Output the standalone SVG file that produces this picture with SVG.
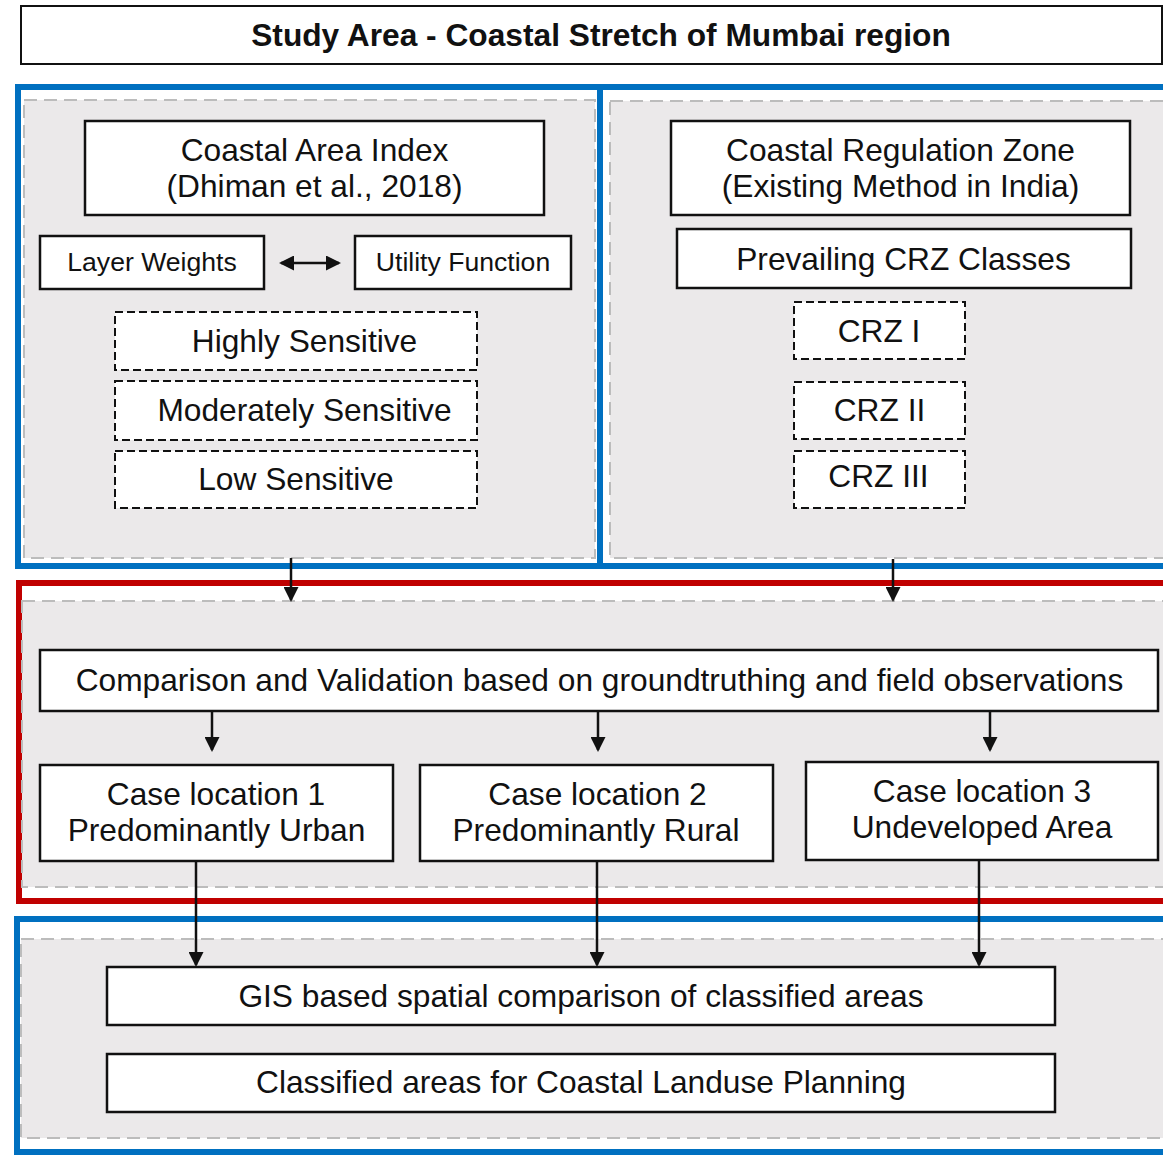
<svg xmlns="http://www.w3.org/2000/svg" width="1163" height="1155" viewBox="0 0 1163 1155">
<style>
text{font-family:"Liberation Sans",Arial,sans-serif;font-size:31.7px;fill:#111;text-anchor:middle}
.title{font-weight:bold}
.sm{font-size:26.6px}
.box{fill:#fff;stroke:#111;stroke-width:2.5}
.dbox{fill:#fff;stroke:#111;stroke-width:2;stroke-dasharray:8 4}
.panel{fill:#ebe9ea;stroke:#bcbcbc;stroke-width:2;stroke-dasharray:13 7}
.blue{fill:#fff;stroke:#0070c0;stroke-width:6}
.red{fill:#fff;stroke:#c00000;stroke-width:6}
.conn{stroke:#111;stroke-width:2.5;fill:none;marker-end:url(#ah)}
</style>
<defs>
<marker id="ah" viewBox="0 0 15 15" refX="13" refY="7.5" markerWidth="15" markerHeight="15" markerUnits="userSpaceOnUse" orient="auto-start-reverse">
<path d="M0,0 L15,7.5 L0,15 z" fill="#111"/>
</marker>
</defs>
<rect width="1163" height="1155" fill="#fff"/>

<g id="title">
<rect x="21" y="6" width="1141" height="58" fill="#fff" stroke="#111" stroke-width="2"/>
<text class="title" x="601" y="46">Study Area - Coastal Stretch of Mumbai region</text>
</g>

<g id="frames">
<rect class="blue" x="18" y="87" width="582" height="479"/>
<rect class="blue" x="600" y="87" width="600" height="479"/>
<rect class="red" x="19" y="583" width="1180" height="318"/>
<rect class="blue" x="17" y="919" width="1180" height="233"/>
<rect class="panel" x="24" y="100" width="571" height="458"/>
<rect class="panel" x="610" y="101" width="600" height="457"/>
<rect class="panel" x="22" y="601" width="1190" height="286"/>
<rect class="panel" x="21" y="939" width="1190" height="199"/>
</g>

<g id="cai">
<rect class="box" x="85" y="121" width="459" height="94"/>
<text x="314.5" y="161">Coastal Area Index</text>
<text x="314.5" y="197">(Dhiman et al., 2018)</text>
</g>
<g id="layer-weights">
<rect class="box" x="40" y="236" width="224" height="53"/>
<text class="sm" x="152" y="271">Layer Weights</text>
</g>
<g id="utility-function">
<rect class="box" x="355" y="236" width="216" height="53"/>
<text class="sm" x="463" y="271">Utility Function</text>
</g>
<g id="highly">
<rect class="dbox" x="115" y="312" width="362" height="58"/>
<text x="304.5" y="352">Highly Sensitive</text>
</g>
<g id="moderately">
<rect class="dbox" x="115" y="381" width="362" height="59"/>
<text x="304.5" y="421">Moderately Sensitive</text>
</g>
<g id="low">
<rect class="dbox" x="115" y="451" width="362" height="57"/>
<text x="296" y="490">Low Sensitive</text>
</g>

<g id="crz">
<rect class="box" x="671" y="121" width="459" height="94"/>
<text x="900.5" y="161">Coastal Regulation Zone</text>
<text x="900.5" y="197">(Existing Method in India)</text>
</g>
<g id="prevailing">
<rect class="box" x="677" y="229" width="454" height="59"/>
<text x="903.5" y="270">Prevailing CRZ Classes</text>
</g>
<g id="crz1">
<rect class="dbox" x="794" y="302" width="171" height="57"/>
<text x="879" y="342">CRZ I</text>
</g>
<g id="crz2">
<rect class="dbox" x="794" y="382" width="171" height="57"/>
<text x="879.5" y="421">CRZ II</text>
</g>
<g id="crz3">
<rect class="dbox" x="794" y="451" width="171" height="57"/>
<text x="878.5" y="487">CRZ III</text>
</g>

<g id="comparison">
<rect class="box" x="40" y="650" width="1118" height="61"/>
<text x="599.5" y="691">Comparison and Validation based on groundtruthing and field observations</text>
</g>
<g id="case1">
<rect class="box" x="40" y="765" width="353" height="96"/>
<text x="216" y="805">Case location 1</text>
<text x="216.5" y="841">Predominantly Urban</text>
</g>
<g id="case2">
<rect class="box" x="420" y="765" width="353" height="96"/>
<text x="597.5" y="805">Case location 2</text>
<text x="596" y="841">Predominantly Rural</text>
</g>
<g id="case3">
<rect class="box" x="806" y="762" width="352" height="98"/>
<text x="982" y="802">Case location 3</text>
<text x="982" y="838">Undeveloped Area</text>
</g>

<g id="gis">
<rect class="box" x="107" y="967" width="948" height="58"/>
<text x="581" y="1007">GIS based spatial comparison of classified areas</text>
</g>
<g id="classified">
<rect class="box" x="107" y="1054" width="948" height="58"/>
<text x="581" y="1093">Classified areas for Coastal Landuse Planning</text>
</g>

<g id="connectors">
<line class="conn" x1="281" y1="263" x2="339" y2="263" style="marker-start:url(#ah)"/>
<line class="conn" x1="291" y1="558" x2="291" y2="600"/>
<line class="conn" x1="893" y1="559" x2="893" y2="600"/>
<line class="conn" x1="212" y1="711" x2="212" y2="750"/>
<line class="conn" x1="598" y1="711" x2="598" y2="750"/>
<line class="conn" x1="990" y1="711" x2="990" y2="750"/>
<line class="conn" x1="196" y1="861" x2="196" y2="965"/>
<line class="conn" x1="597" y1="861" x2="597" y2="965"/>
<line class="conn" x1="979" y1="860" x2="979" y2="965"/>
</g>
</svg>
